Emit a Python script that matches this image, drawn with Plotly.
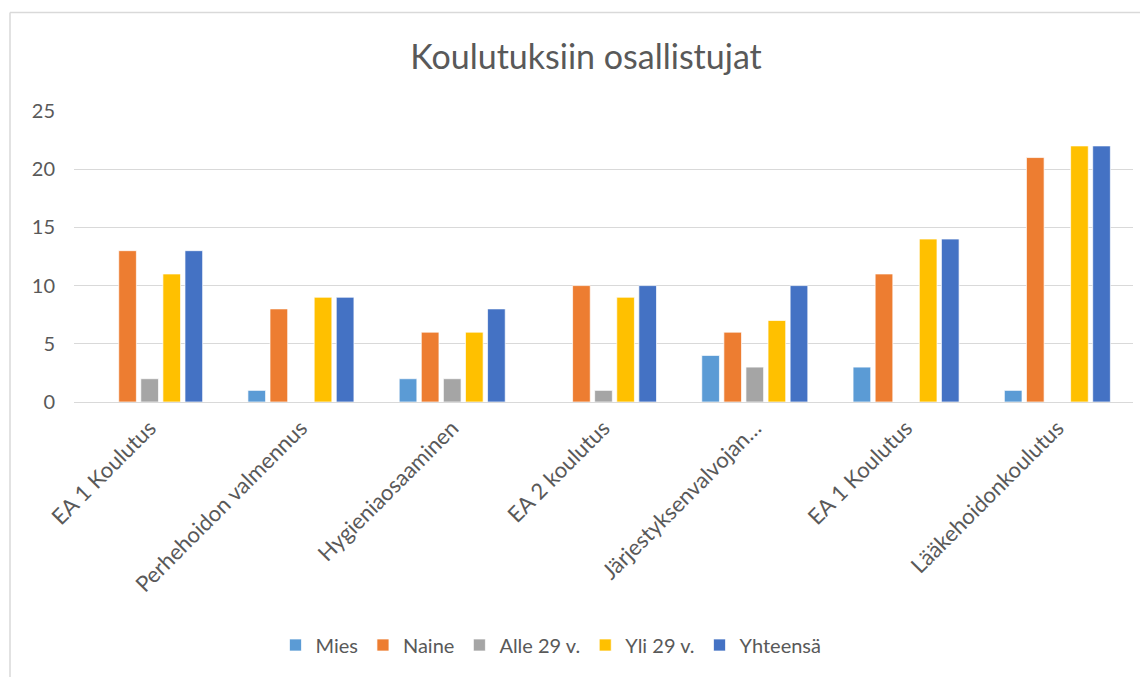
import plotly.graph_objects as go

categories = ["EA 1 Koulutus", "Perhehoidon valmennus", "Hygieniaosaaminen", "EA 2 koulutus",
              "Järjestyksenvalvojan…", "EA 1 Koulutus", "Lääkehoidonkoulutus"]
mies = [0, 1, 2, 0, 4, 3, 1]
naine = [13, 8, 6, 10, 6, 11, 21]
alle29 = [2, 0, 2, 1, 3, 0, 0]
yli29 = [11, 9, 6, 9, 7, 14, 22]
yhteensa = [13, 9, 8, 10, 10, 14, 22]
y_ticks = [0, 5, 10, 15, 20, 25]

series = [("Mies", mies, "#5B9BD5"), ("Naine", naine, "#ED7D31"),
          ("Alle 29 v.", alle29, "#A5A5A5"), ("Yli 29 v.", yli29, "#FFC000"),
          ("Yhteensä", yhteensa, "#4472C4")]

xpos = list(range(len(categories)))
FONT = "Lato"
GREY = "#595959"

fig = go.Figure()
for name, vals, col in series:
    fig.add_trace(go.Bar(x=xpos, y=vals, name=name,
                         marker=dict(color=col, line=dict(color="white", width=0.7))))

# page body has an 8px margin; work in reference-screen pixels and shift
OFF = 8
W, H = 1148 - OFF, 677 - OFF
# plot area in screen px: x 74..1133, y 111..402
L = 74 - OFF
R = 1148 - 1133
T = 111 - OFF
B = 677 - 402
pw, ph = W - L - R, H - T - B

def px2paper_x(sx):
    return (sx - OFF - L) / pw

def py2paper_y(sy):
    return (H - B - (sy - OFF)) / ph

fig.update_layout(
    width=W, height=H,
    margin=dict(l=L, r=R, t=T, b=B),
    paper_bgcolor="white", plot_bgcolor="white",
    font=dict(family=FONT, color=GREY),
    barmode="group", bargap=0.27, bargroupgap=0.2,
    title=dict(text="Koulutuksiin osallistujat", x=(586 - OFF) / W, xanchor="center",
               y=1 - (57 - OFF) / H, yanchor="middle", yref="container", xref="container",
               font=dict(family=FONT, size=34, color=GREY)),
    xaxis=dict(tickmode="array", tickvals=xpos, ticktext=categories, tickangle=-45,
               range=[-0.5, len(categories) - 0.5], showgrid=False, showline=False,
               ticks="", tickfont=dict(family=FONT, size=22, color=GREY),
               ticklabelstandoff=8),
    yaxis=dict(range=[0, 25], tickvals=y_ticks, showgrid=True, gridcolor="#D9D9D9",
               gridwidth=1, zeroline=True, zerolinecolor="#D9D9D9", zerolinewidth=1,
               showline=False, ticks="", tickfont=dict(family=FONT, size=20, color=GREY),
               ticklabelstandoff=18),
    legend=dict(orientation="h", x=px2paper_x(551), xanchor="center",
                y=py2paper_y(645), yanchor="middle",
                font=dict(family=FONT, size=20, color=GREY),
                itemwidth=30, traceorder="normal"),
    showlegend=True,
)

# chart-area border (top and left edges visible)
fig.add_shape(type="line", xref="paper", yref="paper",
              x0=px2paper_x(10), x1=px2paper_x(1160), y0=py2paper_y(12.5), y1=py2paper_y(12.5),
              line=dict(color="#D9D9D9", width=1.5))
fig.add_shape(type="line", xref="paper", yref="paper",
              x0=px2paper_x(10), x1=px2paper_x(10), y0=py2paper_y(12.5), y1=py2paper_y(690),
              line=dict(color="#D9D9D9", width=1.5))

fig.write_html("out.html")
